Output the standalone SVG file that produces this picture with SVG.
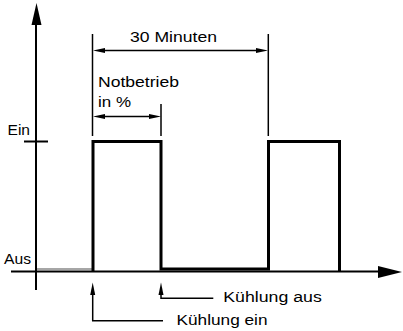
<svg xmlns="http://www.w3.org/2000/svg" width="403" height="331" viewBox="0 0 403 331">
  <style>
    .lbl { font-family: "Liberation Sans", Arial, sans-serif; font-size: 14px; fill: #000; }
    .axis { stroke: #000; stroke-width: 2; fill: none; }
    .sig { stroke: #000; stroke-width: 3; fill: none; stroke-linejoin: miter; }
    .dim { stroke: #000; stroke-width: 1.5; fill: none; }
    .head { fill: #000; stroke: none; }
  </style>
  <rect width="403" height="331" fill="#fff"/>

  <!-- axes -->
  <g id="axes">
    <line class="axis" x1="36" y1="290" x2="36" y2="22"/>
    <polygon class="head" points="36.5,3 31.5,25 41.5,25"/>
    <line class="axis" x1="11" y1="271.5" x2="382" y2="271.5"/>
    <polygon class="head" points="402,272 378,266 378,278"/>
    <line class="axis" x1="24" y1="141.5" x2="48" y2="141.5"/>
    <text class="lbl" x="7.5" y="135" textLength="22.5" lengthAdjust="spacingAndGlyphs">Ein</text>
    <text class="lbl" x="4" y="263.5" textLength="27" lengthAdjust="spacingAndGlyphs">Aus</text>
  </g>

  <!-- on/off signal -->
  <g id="signal">
    <line x1="37" y1="269" x2="92" y2="269" stroke="#888" stroke-width="1.5"/>
    <path class="sig" d="M93,271 V141.5 H161 V269 H268.5 V141.5 H339.5 V271"/>
  </g>

  <!-- period dimension -->
  <g id="dim-period">
    <line class="dim" x1="92.5" y1="34" x2="92.5" y2="136"/>
    <line class="dim" x1="268.3" y1="34" x2="268.3" y2="136"/>
    <line class="dim" x1="100" y1="50.5" x2="261" y2="50.5"/>
    <polygon class="head" points="93,50.5 105,48 105,53"/>
    <polygon class="head" points="268,50.5 256,48 256,53"/>
    <text class="lbl" x="130" y="42" textLength="87" lengthAdjust="spacingAndGlyphs">30 Minuten</text>
  </g>

  <!-- emergency share dimension -->
  <g id="dim-notbetrieb">
    <line class="dim" x1="161" y1="104" x2="161" y2="136"/>
    <line class="dim" x1="100" y1="116.5" x2="154" y2="116.5"/>
    <polygon class="head" points="93,116.5 105,114 105,119"/>
    <polygon class="head" points="161,116.5 149,114 149,119"/>
    <text class="lbl" x="98" y="86.7" textLength="81" lengthAdjust="spacingAndGlyphs">Notbetrieb</text>
    <text class="lbl" x="98" y="107.3" textLength="33" lengthAdjust="spacingAndGlyphs">in %</text>
  </g>

  <!-- event callouts -->
  <g id="callout-ein">
    <path class="dim" d="M92.7,290 V320.7 H163"/>
    <polygon class="head" points="92.7,282.5 90.2,295 95.2,295"/>
    <text class="lbl" x="176.5" y="324.5" textLength="91" lengthAdjust="spacingAndGlyphs">Kühlung ein</text>
  </g>
  <g id="callout-aus">
    <path class="dim" d="M161,290 V298.3 H213.3"/>
    <polygon class="head" points="161,282.5 158.5,295 163.5,295"/>
    <text class="lbl" x="223.3" y="301.7" textLength="98.5" lengthAdjust="spacingAndGlyphs">Kühlung aus</text>
  </g>
</svg>
